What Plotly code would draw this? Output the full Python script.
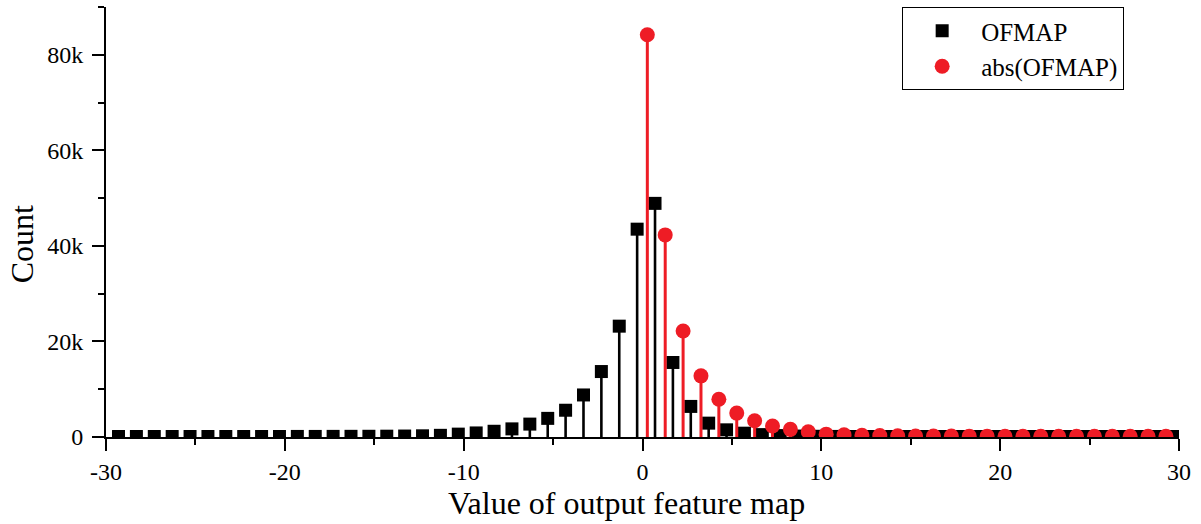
import plotly.graph_objects as go

# Histogram of output feature map values (counts per unit-wide bin)
ofmap_bin_centers = [round(-29.3 + i, 1) for i in range(60)]
ofmap_counts = [
    # -29.3 .. -14.3
    100, 100, 100, 100, 100, 100, 100, 100, 110, 110, 120, 120, 130, 140, 150, 170,
    # -13.3 .. -0.3
    200, 250, 350, 600, 850, 1200, 1700, 2700, 3900, 5600, 8800, 13700, 23200, 43500,
    # 0.7 .. 8.7
    48900, 15600, 6400, 2900, 1500, 800, 500, 300, 200,
    # 9.7 .. 29.7
    150, 120, 100, 100, 100, 100, 100, 100, 100, 100, 100,
    100, 100, 100, 100, 100, 100, 100, 100, 100, 100,
]

abs_bin_centers = [round(0.27 + i, 2) for i in range(30)]
abs_counts = [
    84200, 42300, 22200, 12800, 7900, 5000, 3400, 2300, 1600, 1100,
    600, 450, 350, 300, 250, 220, 200, 200, 180, 180,
    150, 150, 150, 150, 150, 150, 150, 150, 150, 150,
]

series_names = ["OFMAP", "abs(OFMAP)"]
x_tick_values = [-30, -20, -10, 0, 10, 20, 30]
x_tick_labels = ["-30", "-20", "-10", "0", "10", "20", "30"]
y_tick_values = [0, 20000, 40000, 60000, 80000]
y_tick_labels = ["0", "20k", "40k", "60k", "80k"]
x_title = "Value of output feature map"
y_title = "Count"

BLACK = "#000000"
RED = "#EE1C25"
FONT = "Liberation Serif, Times New Roman, serif"

fig = go.Figure()

# Drop lines from the baseline to each point are drawn as one-sided error bars
fig.add_trace(go.Scatter(
    x=ofmap_bin_centers, y=ofmap_counts, name=series_names[0], mode="markers",
    marker=dict(symbol="square", size=13, color=BLACK),
    error_y=dict(type="data", symmetric=False, array=[0] * len(ofmap_counts),
                 arrayminus=ofmap_counts, width=0, thickness=2.6, color=BLACK),
))
fig.add_trace(go.Scatter(
    x=abs_bin_centers, y=abs_counts, name=series_names[1], mode="markers",
    marker=dict(symbol="circle", size=15, color=RED),
    error_y=dict(type="data", symmetric=False, array=[0] * len(abs_counts),
                 arrayminus=abs_counts, width=0, thickness=3, color=RED),
))

axis_common = dict(
    showline=True, linecolor=BLACK, linewidth=2, mirror=False,
    showgrid=False, zeroline=False, ticks="outside", tickcolor=BLACK,
    tickwidth=2, ticklen=12, tickfont=dict(family=FONT, size=24, color=BLACK),
)

fig.update_xaxes(
    range=[-30, 30], tickvals=x_tick_values, ticktext=x_tick_labels,
    minor=dict(ticks="outside", ticklen=6, tickwidth=2, tickcolor=BLACK, dtick=5, tick0=0),
    **axis_common,
)
fig.update_yaxes(
    range=[0, 90000], tickvals=y_tick_values, ticktext=y_tick_labels,
    ticklabelstandoff=4,
    minor=dict(ticks="outside", ticklen=6, tickwidth=2, tickcolor=BLACK, dtick=10000, tick0=0),
    **axis_common,
)

# Axis titles placed as annotations for exact positioning
fig.add_annotation(
    text=x_title, xref="paper", yref="paper", x=0.485, y=-0.153,
    xanchor="center", yanchor="middle", showarrow=False,
    font=dict(family=FONT, size=32, color=BLACK),
)
fig.add_annotation(
    text=y_title, xref="paper", yref="paper", x=-0.078, y=0.449,
    xanchor="center", yanchor="middle", showarrow=False, textangle=-90,
    font=dict(family=FONT, size=32, color=BLACK),
)

fig.update_layout(
    width=1201, height=524,
    margin=dict(l=106, r=22, t=7, b=87),
    paper_bgcolor="white", plot_bgcolor="white",
    font=dict(family=FONT, color=BLACK),
    showlegend=True,
    legend=dict(
        x=0.742, y=1.0, xanchor="left", yanchor="top",
        bordercolor=BLACK, borderwidth=1, bgcolor="white",
        font=dict(family=FONT, size=25, color=BLACK),
        itemwidth=68, tracegroupgap=0,
    ),
)

fig.write_html("out.html")
